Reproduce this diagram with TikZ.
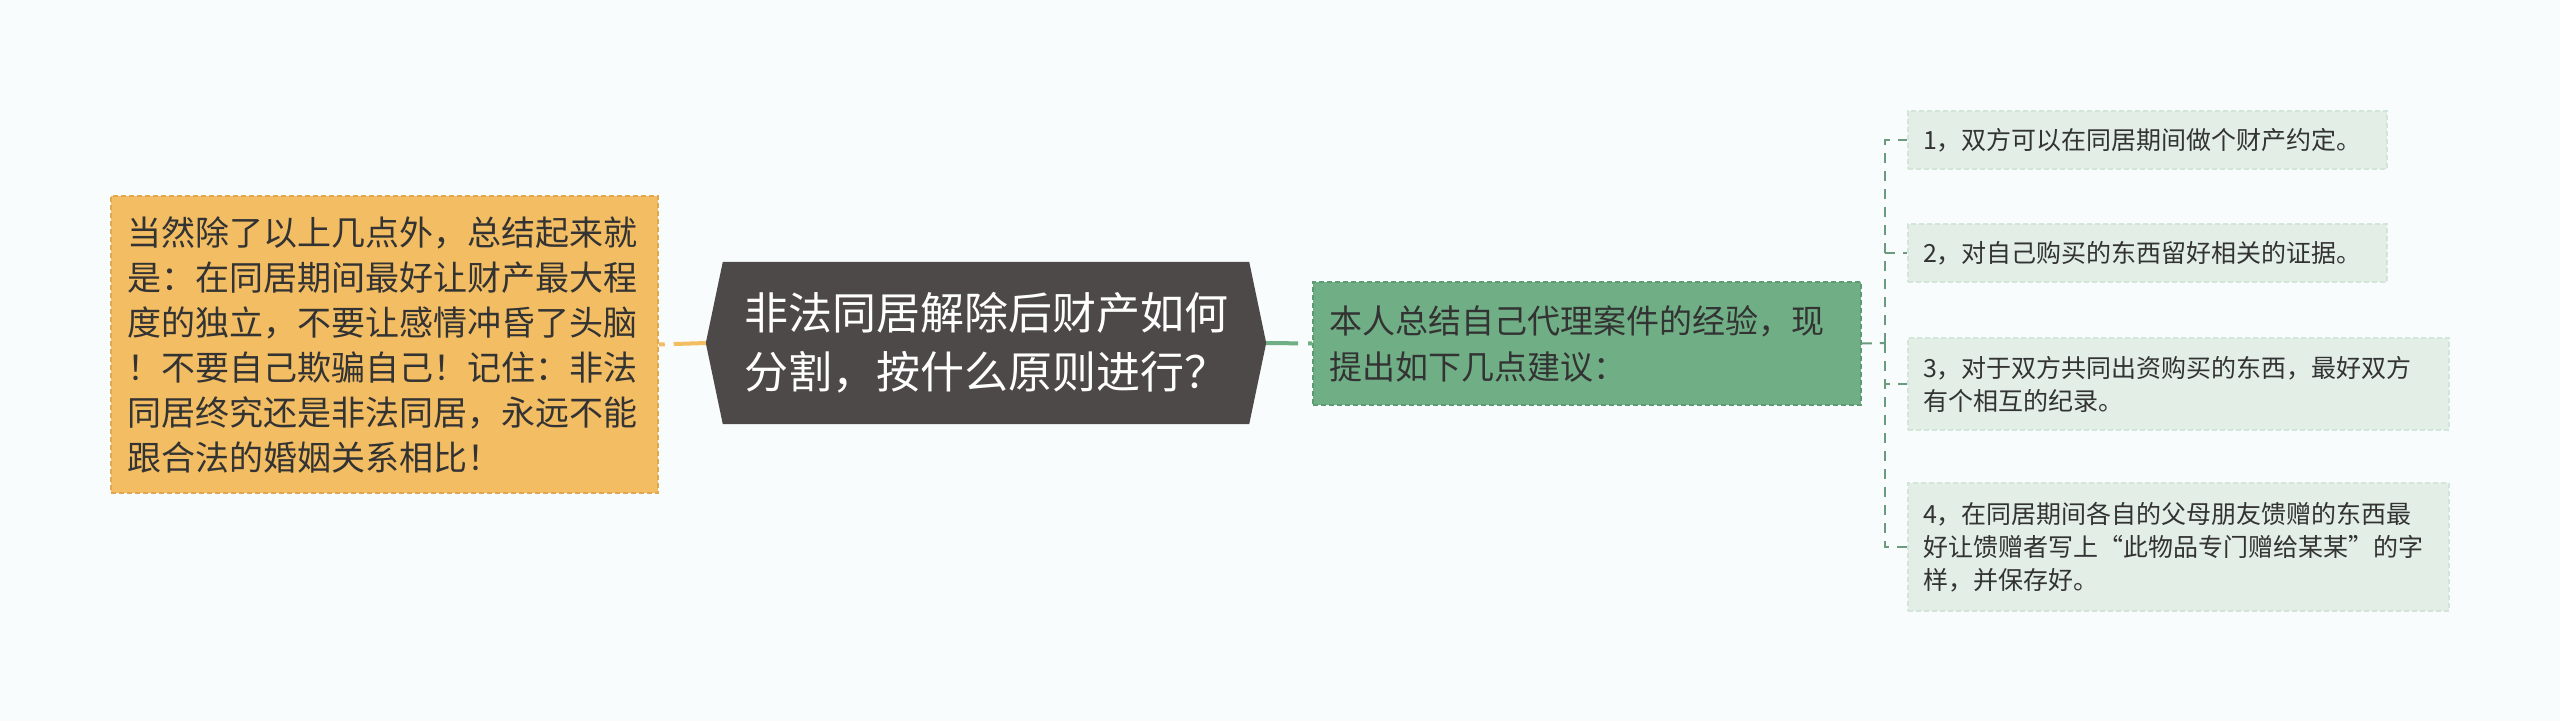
\documentclass[tikz,border=0pt]{standalone}
\usepackage{fontspec}
\setmainfont{Noto Sans CJK SC}
\usetikzlibrary{backgrounds}
\definecolor{bgc}{HTML}{F9FCFC}
\definecolor{orfill}{HTML}{F2BD63}
\definecolor{ordraw}{HTML}{E2A851}
\definecolor{rootfill}{HTML}{4D4949}
\definecolor{grfill}{HTML}{70AF86}
\definecolor{grdraw}{HTML}{5C9B73}
\definecolor{leaffill}{HTML}{E3EFE6}
\definecolor{leafdraw}{HTML}{D3E4D8}
\definecolor{brc}{HTML}{6B9B7E}
\definecolor{txt}{HTML}{333333}
\tikzset{
  orangebox/.style={rectangle, fill=orfill, draw=ordraw, line width=1.5pt, dash pattern=on 5pt off 3pt, inner sep=0pt, align=left, text=txt, font=\fontsize{34pt}{45pt}\selectfont},
  rootbox/.style={rectangle, inner sep=0pt, align=left, text=white, font=\fontsize{44pt}{59pt}\selectfont},
  greenbox/.style={rectangle, fill=grfill, draw=grdraw, line width=1.5pt, dash pattern=on 5pt off 3pt, inner sep=0pt, align=left, text=txt, font=\fontsize{33pt}{46pt}\selectfont},
  leafbox/.style={rectangle, fill=leaffill, draw=leafdraw, line width=1.5pt, dash pattern=on 5pt off 3pt, inner sep=0pt, align=left, text=txt, font=\fontsize{25pt}{33pt}\selectfont},
  orline/.style={draw=orfill, line width=4pt},
  grline/.style={draw=grfill, line width=4pt},
  brline/.style={draw=brc, line width=2pt, dash pattern=on 10pt off 8pt},
}
\begin{document}
\begin{tikzpicture}[x=1pt,y=-1pt]
\useasboundingbox (0,0) rectangle (2560,721);

\node[orangebox, minimum width=547pt, minimum height=297pt, text width=515pt] (note) at (384.5,344.5)
{当然除了以上几点外，总结起来就\\是：在同居期间最好让财产最大程\\度的独立，不要让感情冲昏了头脑\\！不要自己欺骗自己！记住：非法\\同居终究还是非法同居，永远不能\\跟合法的婚姻关系相比！};

\node[rootbox, minimum width=526pt, minimum height=162pt, text width=484pt] (root) at (986,343)
{非法同居解除后财产如何\\分割，按什么原则进行？};
\coordinate (rootL) at ([xshift=-17pt]root.west);
\coordinate (rootR) at ([xshift=17pt]root.east);

\node[greenbox, minimum width=548pt, minimum height=123pt, text width=516pt] (mid) at (1587,343.5)
{本人总结自己代理案件的经验，现\\提出如下几点建议：};

\node[leafbox, minimum width=479pt, minimum height=58pt, text width=449pt] (l1) at (2147.5,140)
{1，双方可以在同居期间做个财产约定。};
\node[leafbox, minimum width=479pt, minimum height=58pt, text width=449pt] (l2) at (2147.5,253)
{2，对自己购买的东西留好相关的证据。};
\node[leafbox, minimum width=541pt, minimum height=92pt, text width=511pt] (l3) at (2178.5,384)
{3，对于双方共同出资购买的东西，最好双方\\有个相互的纪录。};
\node[leafbox, minimum width=541pt, minimum height=128pt, text width=511pt] (l4) at (2178.5,547)
{4，在同居期间各自的父母朋友馈赠的东西最\\好让馈赠者写上“此物品专门赠给某某”的字\\样，并保存好。};

\coordinate (br) at (1885,343);

\begin{scope}[on background layer]
\fill[bgc] (0,0) rectangle (2560,721);
\fill[rootfill] (root.north west) -- (root.north east) -- (rootR) -- (root.south east) -- (root.south west) -- (rootL) -- cycle;
\end{scope}

\draw[orline, dash pattern=on 6pt off 9pt on 60pt off 0pt] (note.east) -- (rootL);
\draw[grline, dash pattern=on 32pt off 10pt on 20pt off 0pt] (rootR) -- (mid.west);
\draw[brline] (mid.east) -- (br);
\draw[brline] (br) |- (l1.west);
\draw[brline] (br) |- (l2.west);
\draw[brline] (br) |- (l3.west);
\draw[brline] (br) |- (l4.west);
\end{tikzpicture}
\end{document}
